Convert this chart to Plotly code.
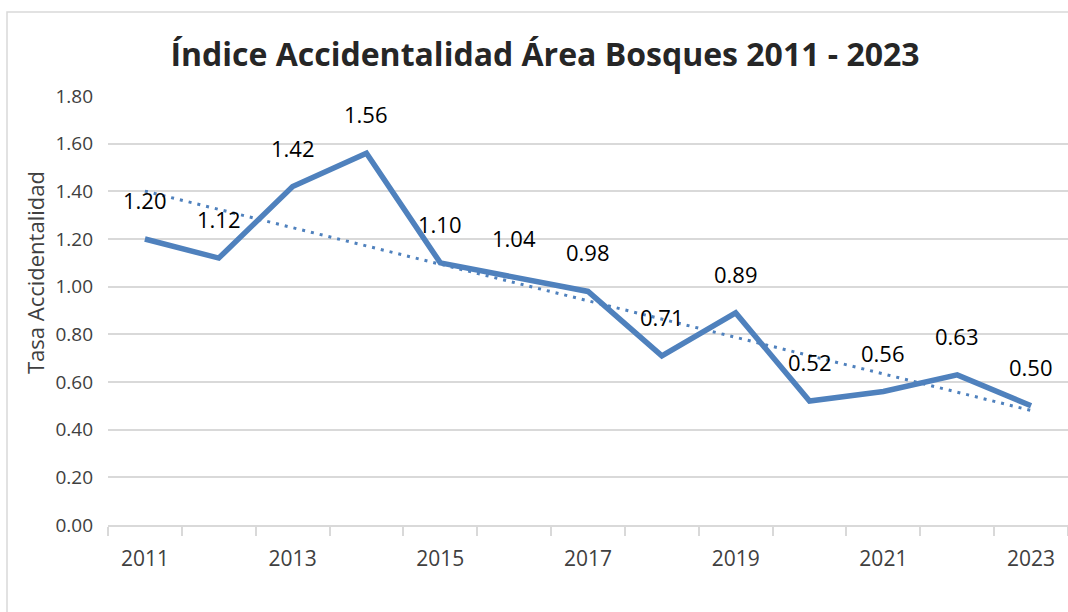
import numpy as np
import plotly.graph_objects as go

years = [2011, 2012, 2013, 2014, 2015, 2016, 2017, 2018, 2019, 2020, 2021, 2022, 2023]
rates = [1.20, 1.12, 1.42, 1.56, 1.10, 1.04, 0.98, 0.71, 0.89, 0.52, 0.56, 0.63, 0.50]
tick_years = [2011, 2013, 2015, 2017, 2019, 2021, 2023]
y_ticks = [0.0, 0.2, 0.4, 0.6, 0.8, 1.0, 1.2, 1.4, 1.6, 1.8]

title_text = "Índice Accidentalidad Área Bosques 2011 - 2023"
y_title = "Tasa Accidentalidad"

W, H = 1068, 612
ML, MR, MT, MB = 108, 0, 96, 87
PW = W - ML - MR
PH = H - MT - MB

LINE_COLOR = "#4F81BD"
GRID = "#d9d9d9"
FONT = "Open Sans"

# linear trendline computed from the data
coef = np.polyfit(np.arange(len(years)), rates, 1)
trend = list(np.polyval(coef, np.arange(len(years))))

fig = go.Figure()
fig.add_trace(go.Scatter(x=years, y=trend, mode="lines",
                         line=dict(color=LINE_COLOR, width=3, dash="3px,6px"),
                         hoverinfo="skip", showlegend=False))
fig.add_trace(go.Scatter(x=years, y=rates, mode="lines",
                         line=dict(color=LINE_COLOR, width=5.5),
                         showlegend=False))

for xv, yv in zip(years, rates):
    fig.add_annotation(x=xv, y=yv, text=f"{yv:.2f}", showarrow=False,
                       yshift=39, yanchor="middle", xanchor="center",
                       font=dict(family=FONT, size=22, color="#000000"))

# y axis title
fig.add_annotation(xref="paper", yref="paper",
                   x=(35 - ML) / PW, y=(H - MB - 273) / PH,
                   text=y_title, textangle=-90, showarrow=False,
                   xanchor="center", yanchor="middle",
                   font=dict(family=FONT, size=22, color="#404040"))

# outer chart frame
fig.add_shape(type="rect", xref="paper", yref="paper",
              x0=(7 - ML) / PW, x1=(W + 30 - ML) / PW,
              y0=(H - MB - (H + 30)) / PH, y1=(H - MB - 12) / PH,
              line=dict(color=GRID, width=1.5), fillcolor="rgba(0,0,0,0)",
              layer="below")

fig.update_layout(
    width=W, height=H,
    margin=dict(l=ML, r=MR, t=MT, b=MB),
    paper_bgcolor="white", plot_bgcolor="white",
    title=dict(text=f"<b>{title_text}</b>", x=545 / W, xanchor="center",
               y=1 - 55 / H, yanchor="middle",
               font=dict(family=FONT, size=32, color="#262626")),
    xaxis=dict(range=[2010.5, 2023.5], tickvals=tick_years,
               ticktext=[str(t) for t in tick_years],
               ticks="", showgrid=False, zeroline=False,
               showline=True, linecolor=GRID, linewidth=1.5,
               tickfont=dict(family=FONT, size=21, color="#404040"),
               ticklabelstandoff=14,
               minor=dict(tick0=2010.5, dtick=1, ticks="outside",
                          ticklen=9, tickcolor=GRID, tickwidth=1.5,
                          showgrid=False)),
    yaxis=dict(range=[0, 1.8], tickvals=y_ticks, tickformat=".2f",
               showgrid=True, gridcolor=GRID, gridwidth=1.5,
               zeroline=False, showline=False, ticks="",
               ticklabelstandoff=14,
               tickfont=dict(family=FONT, size=19, color="#404040")),
)

fig.write_html("out.html",
               config={"displayModeBar": False},
               post_script="document.body.style.margin='0';"
                           "document.body.style.overflow='hidden';")
